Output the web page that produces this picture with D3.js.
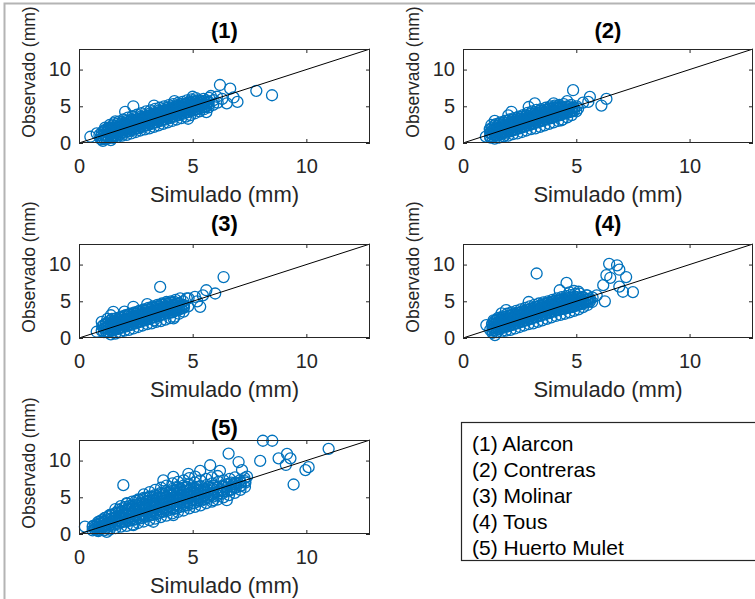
<!DOCTYPE html>
<html>
<head>
<meta charset="utf-8">
<script src="https://cdn.jsdelivr.net/npm/d3@7"></script>
<style>
  html, body { margin: 0; padding: 0; background: #ffffff; }
  svg { display: block; font-family: "Liberation Sans", Arial, Helvetica, sans-serif; }
</style>
</head>
<body>
<svg id="chart" width="755" height="599"></svg>
<script>
// Observed vs simulated values for five stations.
// Scattered records are [simulated, observed] in mm; dense records are
// [simulated, observed, observed, ...] for days sharing a simulated value.
const stations = ["Alarcon", "Contreras", "Molinar", "Tous", "Huerto Mulet"];
const panelTitles = ["(1)", "(2)", "(3)", "(4)", "(5)"];
const tickValues = [0, 5, 10];
const axisMax = 12.8;

const alarcon = [
  [0.50,0.85],[0.78,1.30],[0.95,0.55],[1.05,0.30],[1.40,0.40],[0.90,1.10],
  [1.10,0.55],[1.12,1.05],[1.08,1.65],[1.15,2.10],
  [1.30,0.65],[1.32,1.20],[1.28,1.85],[1.35,2.45],
  [1.50,0.70],[1.52,1.35],[1.48,2.00],[1.55,2.70],
  [1.70,0.85],[1.72,1.50],[1.68,2.20],[1.75,2.90],
  [1.90,1.00],[1.88,1.70],[1.92,2.45],[1.95,3.20],
  [2.10,1.10],[2.12,1.90],[2.08,2.60],[2.15,3.45],
  [2.30,1.30],[2.28,2.05],[2.32,2.85],[2.35,3.65],
  [2.50,1.50],[2.52,2.30],[2.48,3.05],[2.55,3.85],
  [2.70,1.70],[2.68,2.50],[2.72,3.25],[2.75,4.05],
  [2.90,1.85],[2.92,2.70],[2.88,3.50],[2.95,4.30],
  [3.10,2.00],[3.12,2.90],[3.08,3.70],[3.15,4.45],
  [3.30,2.20],[3.28,3.10],[3.32,3.90],[3.35,4.65],
  [3.50,2.40],[3.52,3.30],[3.48,4.10],[3.55,4.80],
  [3.70,2.60],[3.68,3.50],[3.72,4.30],[3.75,5.00],
  [3.90,2.80],[3.92,3.70],[3.88,4.50],[3.95,5.15],
  [4.10,3.00],[4.12,3.90],[4.08,4.70],[4.15,5.30],
  [4.30,3.20],[4.28,4.10],[4.32,4.90],[4.35,5.45],
  [4.50,3.40],[4.52,4.30],[4.48,5.05],[4.55,5.60],
  [4.70,3.60],[4.68,4.50],[4.72,5.25],[4.75,5.80],
  [4.90,3.80],[4.92,4.70],[4.88,5.45],[4.95,5.95],
  [5.10,4.05],[5.12,4.90],[5.08,5.60],[5.15,6.10],
  [5.30,4.30],[5.28,5.10],[5.32,5.80],
  [5.50,4.60],[5.52,5.30],[5.48,6.00],
  [5.70,4.85],[5.68,5.50],[5.72,6.15],
  [5.90,5.20],[5.92,5.85],
  [2.39,5.00],[2.03,4.25],[3.30,5.10],[4.20,5.70],[5.00,6.30],[5.60,4.20],[4.80,3.30],[1.60,2.95],
  [6.20,7.90],[6.65,7.40],[7.80,7.10],[8.49,6.50],[6.97,5.60],[6.50,5.40],[6.07,6.30],
  [6.80,6.20],[6.30,6.00],[6.10,5.50],[5.80,6.40]
];
const alarconDense = [
  [1.0,0.5,1.0,1.4],[1.1,0.6,1.1,1.6],[1.2,0.6,1.0,1.5,1.9],[1.3,0.8,1.3,1.7,2.1],
  [1.4,0.8,1.2,1.7,2.1],[1.5,1.0,1.5,1.9,2.4],[1.6,1.0,1.4,1.9,2.3],[1.7,1.2,1.7,2.1,2.6],
  [1.8,1.2,1.6,2.1,2.5],[1.9,1.4,1.9,2.3,2.8],[2.0,1.4,1.8,2.3,2.7],[2.1,1.6,2.1,2.5,3.0],
  [2.2,1.6,2.0,2.5,2.9],[2.3,1.8,2.3,2.7,3.2],[2.4,1.8,2.2,2.7,3.1],[2.5,2.0,2.5,2.9,3.4],
  [2.6,2.0,2.4,2.9,3.3],[2.7,2.2,2.7,3.1,3.6],[2.8,2.2,2.6,3.1,3.5],[2.9,2.4,2.9,3.3,3.8],
  [3.0,2.4,2.8,3.3,3.7],[3.1,2.6,3.1,3.5,4.0],[3.2,2.6,3.0,3.5,3.9],[3.3,2.8,3.3,3.7,4.2],
  [3.4,2.8,3.2,3.7,4.1],[3.5,3.0,3.5,3.9,4.4],[3.6,3.0,3.4,3.9,4.3],[3.7,3.2,3.7,4.1,4.6],
  [3.8,3.2,3.6,4.1,4.5],[3.9,3.4,3.9,4.3,4.8],[4.0,3.4,3.8,4.3,4.7],[4.1,3.6,4.1,4.5,5.0],
  [4.2,3.6,4.0,4.5,4.9],[4.3,3.8,4.3,4.7,5.1],[4.4,3.8,4.2,4.7,5.1],[4.5,4.0,4.4,4.9,5.3],
  [4.6,4.0,4.4,4.8,5.2],[4.7,4.2,4.6,5.0,5.4],[4.8,4.2,4.6,5.0,5.5],[4.9,4.4,4.8,5.2,5.6],
  [5.0,4.4,4.8,5.2,5.6],[5.1,4.5,4.9,5.3,5.7],[5.2,4.6,5.0,5.4,5.8],[5.3,4.7,5.1,5.5],
  [5.4,4.8,5.2,5.6],[5.5,4.9,5.3,5.7],[5.6,5.0,5.4,5.8],[5.7,5.2,5.6]
];

const contreras = [
  [1.01,0.86],[1.41,1.08],[1.78,0.95],
  [1.20,0.75],[1.22,1.30],[1.18,1.90],[1.25,2.45],
  [1.40,0.60],[1.42,1.25],[1.38,1.90],[1.45,2.55],[1.40,3.00],
  [1.60,0.75],[1.62,1.40],[1.58,2.10],[1.65,2.80],
  [1.80,0.90],[1.82,1.60],[1.78,2.30],[1.85,3.00],
  [2.00,1.00],[2.02,1.80],[1.98,2.50],[2.05,3.20],[2.00,3.75],
  [2.20,1.20],[2.22,1.90],[2.18,2.70],[2.25,3.40],
  [2.40,1.30],[2.42,2.10],[2.38,2.90],[2.45,3.60],
  [2.60,1.50],[2.62,2.30],[2.58,3.10],[2.65,3.80],
  [2.80,1.70],[2.82,2.50],[2.78,3.30],[2.85,4.10],
  [3.00,1.90],[3.02,2.70],[2.98,3.50],[3.05,4.30],
  [3.20,2.00],[3.22,2.90],[3.18,3.70],[3.25,4.50],
  [3.40,2.20],[3.42,3.10],[3.38,3.90],[3.45,4.60],
  [3.60,2.40],[3.62,3.30],[3.58,4.10],[3.65,4.80],
  [3.80,2.60],[3.82,3.50],[3.78,4.30],[3.85,5.00],
  [4.00,2.80],[4.02,3.70],[3.98,4.50],[4.05,5.10],
  [4.20,3.00],[4.22,3.90],[4.18,4.70],[4.25,5.20],
  [4.40,3.20],[4.42,4.10],[4.38,4.80],[4.45,5.30],
  [4.60,3.50],[4.62,4.30],[4.58,5.00],
  [4.80,3.80],[4.82,4.50],[4.78,5.20],
  [5.00,4.30],[5.02,5.00],
  [2.14,4.25],[3.17,5.40],[4.86,7.19],[5.60,6.28],[5.53,5.60],[6.33,6.00],[6.11,5.10],
  [5.08,4.70],[4.35,3.10],[2.90,4.90],[4.00,5.40],[5.30,5.50],[4.60,5.70]
];
const contrerasDense = [
  [1.2,0.9,1.4,1.8],[1.3,0.8,1.2,1.7,2.1],[1.4,1.0,1.5,1.9,2.4],[1.5,1.0,1.4,1.9,2.3],
  [1.6,1.2,1.7,2.1,2.6],[1.7,1.2,1.6,2.1,2.5],[1.8,1.4,1.9,2.3,2.8],[1.9,1.4,1.8,2.3,2.7],
  [2.0,1.6,2.1,2.5,3.0],[2.1,1.6,2.0,2.5,2.9],[2.2,1.8,2.3,2.7,3.2],[2.3,1.8,2.2,2.7,3.1],
  [2.4,2.0,2.5,2.9,3.4],[2.5,2.0,2.4,2.9,3.3],[2.6,2.2,2.7,3.1,3.6],[2.7,2.2,2.6,3.1,3.5],
  [2.8,2.4,2.9,3.3,3.8],[2.9,2.4,2.8,3.3,3.7],[3.0,2.6,3.1,3.5,4.0],[3.1,2.6,3.0,3.5,3.9],
  [3.2,2.8,3.3,3.7,4.2],[3.3,2.8,3.2,3.7,4.1],[3.4,3.0,3.5,3.9,4.4],[3.5,3.0,3.4,3.9,4.3],
  [3.6,3.2,3.6,4.1,4.5],[3.7,3.2,3.6,4.0,4.5],[3.8,3.4,3.8,4.2,4.7],[3.9,3.4,3.8,4.2,4.6],
  [4.0,3.6,4.0,4.4,4.8],[4.1,3.6,4.0,4.4,4.8],[4.2,3.8,4.2,4.6,5.0],[4.3,3.8,4.2,4.6,5.0],
  [4.4,4.0,4.4,4.8],[4.5,4.0,4.4,4.8],[4.6,4.1,4.5,4.9],[4.7,4.2,4.6,5.0],
  [4.8,4.3,4.7],[4.9,4.4,4.8]
];

const molinar = [
  [0.78,0.85],[1.00,2.20],[1.51,3.57],[2.39,4.25],
  [1.00,1.00],[1.02,1.60],
  [1.20,0.80],[1.22,1.40],[1.18,2.00],[1.25,2.60],
  [1.40,0.50],[1.42,1.20],[1.38,1.90],[1.45,2.60],[1.40,3.10],
  [1.60,0.60],[1.62,1.30],[1.58,2.00],[1.65,2.70],
  [1.80,0.80],[1.82,1.50],[1.78,2.20],[1.85,2.90],
  [2.00,1.00],[2.02,1.70],[1.98,2.40],[2.05,3.10],[2.00,3.60],
  [2.20,1.10],[2.22,1.90],[2.18,2.60],[2.25,3.30],
  [2.40,1.30],[2.42,2.10],[2.38,2.80],[2.45,3.50],
  [2.60,1.50],[2.62,2.30],[2.58,3.00],[2.65,3.70],
  [2.80,1.70],[2.82,2.50],[2.78,3.20],[2.85,3.90],
  [3.00,1.90],[3.02,2.70],[2.98,3.40],[3.05,4.10],[3.00,4.60],
  [3.20,2.00],[3.22,2.80],[3.18,3.60],[3.25,4.30],
  [3.40,2.20],[3.42,3.00],[3.38,3.80],[3.45,4.50],
  [3.60,2.30],[3.62,3.20],[3.58,4.00],[3.65,4.70],
  [3.80,2.50],[3.82,3.40],[3.78,4.20],[3.85,4.90],
  [4.00,2.70],[4.02,3.50],[3.98,4.30],[4.05,5.00],
  [4.20,2.90],[4.22,3.70],[4.18,4.50],[4.25,5.20],
  [4.40,3.30],[4.42,4.00],[4.38,4.70],[4.45,5.40],
  [4.60,3.60],[4.62,4.30],[4.58,5.00],
  [4.80,4.30],[4.82,5.40],
  [3.57,6.96],[6.36,8.30],[5.99,6.06],[5.60,6.50],[5.33,4.25],[4.74,5.40],[4.16,2.67],
  [5.10,5.60],[5.20,5.00],[5.45,5.80],[3.30,2.40]
];
const molinarDense = [
  [1.1,0.8,1.3,1.8],[1.2,0.9,1.4,1.9],[1.3,0.8,1.2,1.7,2.1],[1.4,1.0,1.5,1.9,2.4],
  [1.5,1.0,1.4,1.9,2.3],[1.6,1.2,1.7,2.1,2.6],[1.7,1.2,1.6,2.1,2.5],[1.8,1.4,1.9,2.3,2.8],
  [1.9,1.4,1.8,2.3,2.7],[2.0,1.6,2.1,2.5,3.0],[2.1,1.6,2.0,2.5,2.9],[2.2,1.8,2.3,2.7,3.2],
  [2.3,1.8,2.2,2.7,3.1],[2.4,2.0,2.5,2.9,3.4],[2.5,2.0,2.4,2.9,3.3],[2.6,2.2,2.7,3.1,3.6],
  [2.7,2.2,2.6,3.1,3.5],[2.8,2.4,2.9,3.3,3.8],[2.9,2.4,2.8,3.3,3.7],[3.0,2.6,3.0,3.4,3.9],
  [3.1,2.6,3.0,3.5,3.9],[3.2,2.8,3.2,3.6,4.1],[3.3,2.8,3.2,3.7,4.1],[3.4,3.0,3.4,3.8,4.3],
  [3.5,3.0,3.4,3.9,4.3],[3.6,3.2,3.6,4.0,4.5],[3.7,3.2,3.6,4.1,4.5],[3.8,3.4,3.8,4.2,4.7],
  [3.9,3.4,3.8,4.2,4.6],[4.0,3.5,3.9,4.3,4.8],[4.1,3.5,4.0,4.4,4.8],[4.2,3.7,4.1,4.5,4.9],
  [4.3,3.8,4.2,4.6],[4.4,3.9,4.3,4.7],[4.5,4.0,4.4],[4.6,4.1,4.5]
];

const tous = [
  [3.25,8.78],[6.45,10.10],[6.80,9.90],[6.90,9.30],[6.33,8.55],[6.50,8.20],[7.20,8.30],
  [6.19,7.20],[6.90,7.00],[7.06,6.30],[7.50,6.25],[6.26,5.00],[5.90,5.80],[5.45,5.80],
  [4.57,7.50],[4.27,6.50],[1.03,1.76],[1.20,1.10],[1.70,3.35],[1.50,2.50],[1.41,0.40],
  [4.90,6.40],[5.10,6.30],[4.70,6.20],
  [1.30,0.70],[1.32,1.30],[1.28,1.90],[1.35,2.40],
  [1.50,0.80],[1.52,1.40],[1.48,2.05],[1.55,2.75],
  [1.70,0.85],[1.72,1.55],[1.68,2.25],[1.75,2.95],
  [1.90,1.00],[1.92,1.75],[1.88,2.50],[1.95,3.30],[1.90,3.80],
  [2.10,1.10],[2.12,1.90],[2.08,2.70],[2.15,3.50],
  [2.30,1.30],[2.32,2.10],[2.28,2.90],[2.35,3.70],
  [2.50,1.50],[2.52,2.30],[2.48,3.10],[2.55,3.90],
  [2.70,1.70],[2.72,2.50],[2.68,3.30],[2.75,4.10],
  [2.90,1.90],[2.92,2.70],[2.88,3.50],[2.95,4.30],[2.90,4.90],
  [3.10,2.00],[3.12,2.90],[3.08,3.70],[3.15,4.50],
  [3.30,2.20],[3.32,3.10],[3.28,3.90],[3.35,4.70],
  [3.50,2.40],[3.52,3.30],[3.48,4.10],[3.55,4.85],
  [3.70,2.60],[3.72,3.50],[3.68,4.30],[3.75,5.00],
  [3.90,2.80],[3.92,3.70],[3.88,4.50],[3.95,5.20],
  [4.10,3.00],[4.12,3.85],[4.08,4.65],[4.15,5.40],
  [4.30,3.15],[4.32,4.00],[4.28,4.80],[4.35,5.55],
  [4.50,3.30],[4.52,4.15],[4.48,4.95],[4.55,5.70],
  [4.70,3.50],[4.72,4.30],[4.68,5.10],[4.75,5.85],
  [4.90,3.70],[4.92,4.50],[4.88,5.25],[4.95,6.00],
  [5.10,3.90],[5.12,4.70],[5.08,5.40],[5.15,6.05],
  [5.30,4.20],[5.32,4.90],[5.28,5.60],
  [5.50,4.50],[5.52,5.15],[5.48,5.80],
  [5.70,4.90],[5.72,5.50]
];
const tousDense = [
  [1.3,1.0,1.5,1.9],[1.4,1.0,1.4,1.9,2.3],[1.5,1.2,1.6,2.1,2.5],[1.6,1.2,1.6,2.1,2.5],
  [1.7,1.4,1.8,2.3,2.7],[1.8,1.4,1.9,2.3,2.8],[1.9,1.6,2.0,2.5,2.9],[2.0,1.6,2.1,2.5,3.0],
  [2.1,1.8,2.2,2.7,3.1],[2.2,1.8,2.3,2.7,3.2],[2.3,2.0,2.4,2.9,3.3],[2.4,2.0,2.5,2.9,3.4],
  [2.5,2.2,2.6,3.1,3.5],[2.6,2.2,2.7,3.1,3.6],[2.7,2.4,2.8,3.3,3.7],[2.8,2.4,2.9,3.3,3.8],
  [2.9,2.6,3.0,3.5,3.9],[3.0,2.6,3.1,3.5,4.0],[3.1,2.8,3.2,3.7,4.1],[3.2,2.8,3.3,3.7,4.2],
  [3.3,3.0,3.4,3.9,4.3],[3.4,3.0,3.5,3.9,4.4],[3.5,3.2,3.6,4.1,4.5],[3.6,3.2,3.7,4.1,4.6],
  [3.7,3.4,3.8,4.3,4.7],[3.8,3.4,3.9,4.3,4.8],[3.9,3.6,4.0,4.5,4.9],[4.0,3.6,4.1,4.5,5.0],
  [4.1,3.8,4.2,4.6,5.1],[4.2,3.8,4.2,4.7,5.1],[4.3,3.9,4.3,4.8,5.2],[4.4,4.0,4.4,4.8,5.3],
  [4.5,4.0,4.5,4.9,5.3],[4.6,4.1,4.5,5.0,5.4],[4.7,4.2,4.6,5.0,5.5],[4.8,4.2,4.7,5.1,5.5],
  [4.9,4.3,4.7,5.2,5.6],[5.0,4.4,4.8,5.2,5.6],[5.1,4.5,4.9,5.3],[5.2,4.6,5.0,5.4],
  [5.3,4.7,5.1,5.5],[5.4,4.8,5.2],[5.5,4.9,5.3],[5.6,5.0,5.4]
];

const huertoMulet = [
  [8.09,12.70],[8.50,12.70],[10.98,11.60],[9.15,10.90],[8.78,10.30],[9.30,10.30],[9.10,9.40],
  [7.97,9.95],[9.96,8.70],[10.10,9.10],[9.44,6.74],[6.58,10.95],[7.02,9.80],[7.17,8.70],
  [5.77,9.36],[1.95,6.65],[4.15,7.78],[3.71,7.30],[4.81,8.20],[5.33,8.60],[6.20,8.60],
  [7.39,7.80],[7.30,7.20],[6.80,6.80],[6.50,4.60],[5.90,4.60],[5.30,4.60],[4.15,2.58],
  [3.27,1.67],[2.39,1.20],[1.22,0.30],[0.26,1.00],[0.60,1.00],[0.90,1.70],[1.37,2.58],[2.10,4.20],
  [0.60,0.50],[0.62,1.10],
  [0.85,0.40],[0.87,1.00],[0.83,1.60],
  [1.10,0.50],[1.12,1.10],[1.08,1.70],[1.14,2.20],
  [1.35,0.60],[1.33,1.20],[1.37,1.90],[1.36,2.60],
  [1.60,0.80],[1.62,1.50],[1.58,2.20],[1.63,2.90],[1.60,3.40],
  [1.85,1.00],[1.83,1.70],[1.87,2.40],[1.86,3.10],[1.84,3.80],
  [2.10,1.10],[2.12,1.90],[2.08,2.70],[2.13,3.40],[2.10,4.10],
  [2.35,1.30],[2.33,2.10],[2.37,2.90],[2.36,3.70],[2.34,4.40],
  [2.60,1.50],[2.62,2.30],[2.58,3.10],[2.63,3.90],[2.60,4.70],
  [2.85,1.70],[2.83,2.50],[2.87,3.30],[2.86,4.10],[2.84,4.90],[2.85,5.40],
  [3.10,1.90],[3.12,2.70],[3.08,3.50],[3.13,4.30],[3.10,5.10],[3.11,5.70],
  [3.35,2.10],[3.33,2.90],[3.37,3.70],[3.36,4.50],[3.34,5.30],[3.35,6.00],
  [3.60,2.30],[3.62,3.10],[3.58,3.90],[3.63,4.80],[3.60,5.60],[3.61,6.30],
  [3.85,2.50],[3.83,3.30],[3.87,4.20],[3.86,5.00],[3.84,5.80],[3.85,6.60],
  [4.10,2.80],[4.12,3.60],[4.08,4.40],[4.13,5.30],[4.10,6.10],[4.11,6.90],
  [4.35,3.00],[4.33,3.80],[4.37,4.70],[4.36,5.50],[4.34,6.30],[4.35,7.10],
  [4.60,3.20],[4.62,4.10],[4.58,4.90],[4.63,5.80],[4.60,6.60],[4.61,7.30],
  [4.85,3.50],[4.83,4.30],[4.87,5.20],[4.86,6.00],[4.84,6.80],[4.85,7.60],
  [5.10,3.70],[5.12,4.60],[5.08,5.40],[5.13,6.20],[5.10,7.00],[5.11,7.80],
  [5.35,3.90],[5.33,4.80],[5.37,5.70],[5.36,6.50],[5.34,7.30],
  [5.60,4.20],[5.62,5.00],[5.58,5.90],[5.63,6.70],[5.60,7.50],
  [5.85,4.40],[5.83,5.30],[5.87,6.10],[5.86,6.90],[5.84,7.70],
  [6.10,4.70],[6.12,5.50],[6.08,6.30],[6.13,7.10],[6.10,7.90],
  [6.35,5.00],[6.33,5.80],[6.37,6.50],[6.36,7.30],
  [6.60,5.30],[6.62,6.00],[6.58,6.80],[6.63,7.50],
  [6.85,5.60],[6.83,6.30],[6.87,7.00],[6.86,7.70],
  [7.10,6.00],[7.12,6.60],[7.08,7.30],
  [7.30,6.40],[7.32,7.00],[7.28,7.60]
];
const huertoMuletDense = [
  [0.7,0.6,1.0],[0.8,0.5,0.9,1.3],[0.9,0.6,1.0,1.4],[1.0,0.7,1.1,1.5,1.9],
  [1.15,0.8,1.3,1.8,2.2],[1.3,1.0,1.5,2.0,2.4],[1.45,1.1,1.6,2.1,2.6],[1.6,1.3,1.8,2.3,2.8],
  [1.75,1.4,1.9,2.4,2.9,3.3],[1.9,1.6,2.1,2.6,3.1,3.5],[2.05,1.7,2.2,2.7,3.2,3.7],
  [2.2,1.8,2.3,2.8,3.3,3.8],[2.35,1.9,2.4,2.9,3.4,3.9],[2.5,2.0,2.5,3.0,3.5,4.0,4.5],
  [2.65,2.1,2.6,3.1,3.6,4.1,4.6],[2.8,2.2,2.7,3.2,3.7,4.2,4.7],[2.95,2.4,2.9,3.4,3.9,4.4,4.9],
  [3.1,2.5,3.0,3.5,4.0,4.5,5.0],[3.25,2.6,3.1,3.6,4.1,4.6,5.1],[3.4,2.7,3.2,3.7,4.2,4.7,5.2],
  [3.55,2.9,3.4,3.9,4.4,4.9,5.4],[3.7,3.0,3.5,4.0,4.5,5.0,5.5],[3.85,3.1,3.6,4.1,4.6,5.1,5.6],
  [4.0,3.3,3.8,4.3,4.8,5.3,5.8],[4.15,3.4,3.9,4.4,4.9,5.4,5.9],[4.3,3.5,4.0,4.5,5.0,5.5,6.0],
  [4.45,3.7,4.2,4.7,5.2,5.7,6.2],[4.6,3.8,4.3,4.8,5.3,5.8,6.3],[4.75,3.9,4.4,4.9,5.4,5.9,6.4],
  [4.9,4.1,4.6,5.1,5.6,6.1],[5.05,4.2,4.7,5.2,5.7,6.2],[5.2,4.4,4.9,5.4,5.9,6.4],
  [5.35,4.5,5.0,5.5,6.0],[5.5,4.7,5.2,5.7,6.2],[5.7,4.9,5.4,5.9,6.4],[5.9,5.1,5.6,6.1,6.6],
  [6.1,5.3,5.8,6.3],[6.3,5.5,6.0,6.5],[6.5,5.8,6.3,6.8],[6.7,6.0,6.5,7.0],
  [6.9,6.3,6.8],[7.1,6.5,7.0]
];

// expand [sim, obs1, obs2, ...] rows into [sim, obs] pairs
const expandRows = rows => rows.flatMap(r => r.slice(1).map(o => [r[0], o]));

const seriesList = [
  expandRows(alarconDense).concat(alarcon),
  expandRows(contrerasDense).concat(contreras),
  expandRows(molinarDense).concat(molinar),
  expandRows(tousDense).concat(tous),
  expandRows(huertoMuletDense).concat(huertoMulet)
];

// Panel placement (pixels)
const panels = [
  { left: 79,  top: 49,  width: 291, height: 94, titleY: 38 },
  { left: 463, top: 49,  width: 290, height: 94, titleY: 38 },
  { left: 79,  top: 244, width: 291, height: 94, titleY: 231 },
  { left: 463, top: 244, width: 290, height: 94, titleY: 231 },
  { left: 79,  top: 440, width: 291, height: 94, titleY: 435 }
];

const axisColor = "#262626";
const markerColor = "#0072BD";

const svg = d3.select("#chart");
svg.append("rect").attr("width", 755).attr("height", 599).attr("fill", "#ffffff");

// figure frame
svg.append("rect")
  .attr("x", 4.5).attr("y", 3.5).attr("width", 820).attr("height", 700)
  .attr("fill", "none").attr("stroke", "#b4b4b4").attr("stroke-width", 2);

panels.forEach((p, i) => {
  const data = seriesList[i];
  const g = svg.append("g").attr("transform", `translate(${p.left},${p.top})`);
  const x = d3.scaleLinear().domain([0, axisMax]).range([0, p.width]);
  const y = d3.scaleLinear().domain([0, axisMax]).range([p.height, 0]);

  g.append("rect").attr("width", p.width).attr("height", p.height).attr("fill", "#ffffff");

  // scatter markers
  g.append("g").selectAll("circle").data(data).join("circle")
    .attr("cx", d => x(d[0]))
    .attr("cy", d => y(d[1]))
    .attr("r", 5.5)
    .attr("fill", "none")
    .attr("stroke", markerColor)
    .attr("stroke-width", 1.3);

  // 1:1 line
  g.append("line")
    .attr("x1", x(0)).attr("y1", y(0))
    .attr("x2", x(axisMax)).attr("y2", y(axisMax))
    .attr("stroke", "#000000").attr("stroke-width", 1);

  // axes
  const styleAxis = sel => {
    sel.select(".domain").remove();
    sel.selectAll(".tick line").attr("stroke", axisColor);
    sel.selectAll(".tick text").attr("fill", axisColor).attr("font-size", 20)
      .attr("font-family", "Liberation Sans, Arial, sans-serif");
  };
  g.append("g").attr("transform", `translate(0,${p.height})`)
    .call(d3.axisBottom(x).tickValues(tickValues).tickSize(-4).tickPadding(16).tickFormat(d3.format("d")))
    .call(styleAxis);
  g.append("g")
    .call(d3.axisTop(x).tickValues(tickValues).tickSize(-4).tickFormat(""))
    .call(styleAxis);
  g.append("g")
    .call(d3.axisLeft(y).tickValues(tickValues).tickSize(-4).tickPadding(8).tickFormat(d3.format("d")))
    .call(styleAxis);
  g.append("g").attr("transform", `translate(${p.width},0)`)
    .call(d3.axisRight(y).tickValues(tickValues).tickSize(-4).tickFormat(""))
    .call(styleAxis);

  g.append("rect")
    .attr("x", 0.5).attr("y", 0.5).attr("width", p.width - 1).attr("height", p.height - 1)
    .attr("fill", "none").attr("stroke", axisColor).attr("stroke-width", 1);

  // title
  svg.append("text")
    .attr("x", p.left + p.width / 2).attr("y", p.titleY)
    .attr("text-anchor", "middle").attr("font-size", 22).attr("font-weight", "bold")
    .attr("fill", "#000000").text(panelTitles[i]);

  // axis labels
  g.append("text")
    .attr("x", p.width / 2).attr("y", p.height + 59)
    .attr("text-anchor", "middle").attr("font-size", 22).attr("fill", axisColor)
    .text("Simulado (mm)");
  g.append("text")
    .attr("transform", `translate(-44,${p.height / 2 - 24}) rotate(-90)`)
    .attr("text-anchor", "middle").attr("font-size", 17.5).attr("fill", axisColor)
    .text("Observado (mm)");
});

// station key
const key = svg.append("g");
key.append("rect")
  .attr("x", 461.5).attr("y", 422.5).attr("width", 320).attr("height", 138)
  .attr("fill", "#ffffff").attr("stroke", axisColor).attr("stroke-width", 1.2);
key.selectAll("text").data(stations).join("text")
  .attr("x", 472)
  .attr("y", (d, i) => 450.5 + i * 26)
  .attr("font-size", 21).attr("fill", "#000000")
  .text((d, i) => `${panelTitles[i]} ${d}`);
</script>
</body>
</html>
